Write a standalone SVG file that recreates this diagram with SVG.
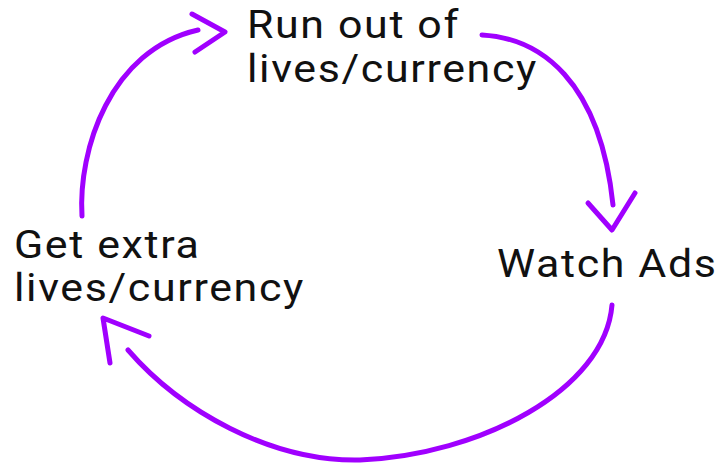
<svg xmlns="http://www.w3.org/2000/svg" width="720" height="465" viewBox="0 0 720 465">
<style>
text{font-family:Roboto,"Liberation Sans",sans-serif;font-size:39px;fill:#111;letter-spacing:1.5px;}
.c{fill:none;stroke:#a000ff;stroke-width:5;stroke-linecap:round;stroke-linejoin:round;}
</style>
<rect width="720" height="465" fill="#fff"/>
<g id="connectors">
<path class="c" d="M82,216 C78,150 110,50 198,30"/>
<path class="c" d="M192,14 L225,32 L195,52"/>
<path class="c" d="M482,35 C540,38 600,80 613,205"/>
<path class="c" d="M588,203 L612,230 L635,193"/>
<path class="c" d="M612,305 C605,390 480,455 360,460 C270,462 180,410 128,350"/>
<path class="c" d="M149,336 L103,318 L110,363"/>
</g>
<g id="node-runout" transform="translate(247,0) scale(1.1,1)">
<text x="0" y="38">Run out of</text>
<text x="0" y="82">lives/currency</text>
</g>
<g id="node-watch" transform="translate(497,0) scale(1.1,1)">
<text x="0" y="277">Watch Ads</text>
</g>
<g id="node-getextra" transform="translate(14,0) scale(1.1,1)">
<text x="0" y="258">Get extra</text>
<text x="0" y="301">lives/currency</text>
</g>
</svg>
